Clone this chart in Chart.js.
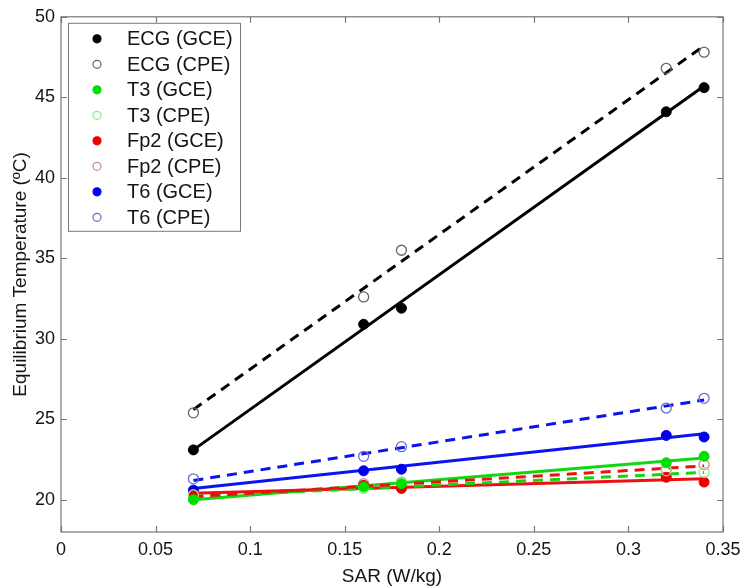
<!DOCTYPE html>
<html>
<head>
<meta charset="utf-8">
<script src="https://cdn.jsdelivr.net/npm/chart.js@4/dist/chart.umd.min.js"></script>
<style>
  html, body { margin: 0; padding: 0; background: #fff; }
  #wrap { width: 750px; height: 588px; }
</style>
</head>
<body>
<div id="wrap"><canvas id="myChart" width="750" height="588"></canvas></div>
<script>
// measured points, SAR in W/kg
const sar = [0.07, 0.16, 0.18, 0.32, 0.34];
const ecgGce = [23.1, 30.9, 31.9, 44.1, 45.6];
const ecgCpe = [25.4, 32.6, 35.5, 46.8, 47.8];
const t3Gce = [20.0, 20.8, 21.0, 22.3, 22.7];
const t3Cpe = [20.3, 20.7, 21.1, 21.8, 21.7];
const fp2Gce = [20.3, 20.9, 20.7, 21.4, 21.1];
const fp2Cpe = [20.3, 21.0, 21.1, 21.9, 22.2];
const t6Gce = [20.6, 21.8, 21.9, 24.0, 23.9];
const t6Cpe = [21.3, 22.7, 23.3, 25.7, 26.3];

// fitted lines, read at both ends
const fitX = [0.07, 0.34];
const ecgGceFit = [23.1, 45.7];
const ecgCpeFit = [25.6, 48.2];
const t3GceFit = [20.0, 22.6];
const t3CpeFit = [20.2, 21.7];
const fp2GceFit = [20.4, 21.3];
const fp2CpeFit = [20.2, 22.1];
const t6GceFit = [20.7, 24.1];
const t6CpeFit = [21.2, 26.2];

const xTicks = [0, 0.05, 0.1, 0.15, 0.2, 0.25, 0.3, 0.35];
const yTicks = [20, 25, 30, 35, 40, 45, 50];

const FONT = "'Liberation Sans', Arial, sans-serif";
const TEXT = '#151515';

function pts(xs, ys) {
    return xs.map((x, i) => ({ x: x, y: ys[i] }));
}

function markers(label, ys, color, open) {
    return {
        label: label,
        data: pts(sar, ys),
        showLine: false,
        pointRadius: 5,
        pointBorderWidth: open ? 1.3 : 1,
        pointBorderColor: color,
        pointBackgroundColor: open ? 'rgba(0,0,0,0)' : color,
        isMarker: true,
        order: 1
    };
}

function fit(ys, color, dashed) {
    return {
        data: pts(fitX, ys),
        showLine: true,
        borderColor: color,
        borderWidth: 3,
        borderDash: dashed ? [10, 7] : [],
        pointRadius: 0,
        isMarker: false,
        order: 2
    };
}

// boxed legend in the top left corner, markers only
const boxLegend = {
    id: 'boxLegend',
    afterDraw(chart) {
        const ctx = chart.ctx;
        const a = chart.chartArea;
        const items = chart.data.datasets.filter(d => d.isMarker);
        const x0 = a.left + 7, y0 = a.top + 6;
        const w = 172, h = 208;
        ctx.save();
        ctx.fillStyle = '#fff';
        ctx.fillRect(x0, y0, w, h);
        ctx.strokeStyle = '#777';
        ctx.lineWidth = 1;
        ctx.strokeRect(x0 + 0.5, y0 + 0.5, w, h);
        ctx.font = '20px ' + FONT;
        ctx.textBaseline = 'middle';
        items.forEach((d, i) => {
            const cy = y0 + 16 + i * 25.5;
            ctx.beginPath();
            ctx.arc(x0 + 29, cy, 4, 0, Math.PI * 2);
            if (d.pointBackgroundColor !== 'rgba(0,0,0,0)') {
                ctx.fillStyle = d.pointBackgroundColor;
                ctx.fill();
            }
            ctx.strokeStyle = d.pointBorderColor;
            ctx.lineWidth = 1.2;
            ctx.stroke();
            ctx.fillStyle = TEXT;
            ctx.fillText(d.label, x0 + 59, cy + 1);
        });
        ctx.restore();
    }
};

// box around the axes with inward ticks on all sides
const axesBox = {
    id: 'axesBox',
    beforeDatasetsDraw(chart) {
        const ctx = chart.ctx;
        const a = chart.chartArea;
        const xs = chart.scales.x, ys = chart.scales.y;
        ctx.save();
        ctx.strokeStyle = '#777';
        ctx.lineWidth = 1.2;
        ctx.strokeRect(a.left, a.top, a.right - a.left, a.bottom - a.top);
        ctx.beginPath();
        xTicks.forEach(v => {
            const px = Math.round(xs.getPixelForValue(v)) + 0.5;
            ctx.moveTo(px, a.bottom); ctx.lineTo(px, a.bottom - 6);
            ctx.moveTo(px, a.top); ctx.lineTo(px, a.top + 6);
        });
        yTicks.forEach(v => {
            const py = Math.round(ys.getPixelForValue(v)) + 0.5;
            ctx.moveTo(a.left, py); ctx.lineTo(a.left + 6, py);
            ctx.moveTo(a.right, py); ctx.lineTo(a.right - 6, py);
        });
        ctx.stroke();
        ctx.restore();
    }
};

new Chart(document.getElementById('myChart'), {
    type: 'scatter',
    data: {
        datasets: [
            markers('ECG (GCE)', ecgGce, '#000000', false),
            markers('ECG (CPE)', ecgCpe, '#666666', true),
            markers('T3 (GCE)', t3Gce, '#00e000', false),
            markers('T3 (CPE)', t3Cpe, '#8ee88e', true),
            markers('Fp2 (GCE)', fp2Gce, '#ee0000', false),
            markers('Fp2 (CPE)', fp2Cpe, '#d08a8a', true),
            markers('T6 (GCE)', t6Gce, '#0000ee', false),
            markers('T6 (CPE)', t6Cpe, '#6a6ad0', true),
            fit(ecgGceFit, '#000000', false),
            fit(ecgCpeFit, '#000000', true),
            fit(t6CpeFit, '#0a14ee', true),
            fit(t6GceFit, '#0a14ee', false),
            fit(fp2CpeFit, '#ee1010', true),
            fit(t3CpeFit, '#10d810', true),
            fit(fp2GceFit, '#ee1010', false),
            fit(t3GceFit, '#10d810', false)
        ]
    },
    options: {
        responsive: false,
        animation: false,
        layout: { padding: { top: 11, right: 27, left: 0, bottom: 0 } },
        plugins: {
            legend: { display: false },
            tooltip: { enabled: false }
        },
        scales: {
            x: {
                type: 'linear',
                min: 0,
                max: 0.35,
                afterFit: s => { s.height = 56; },
                afterBuildTicks: s => { s.ticks = xTicks.map(v => ({ value: v })); },
                grid: { display: false, drawTicks: false },
                border: { display: false },
                ticks: {
                    padding: 7,
                    color: TEXT,
                    font: { family: FONT, size: 18 },
                    callback: v => String(+v.toFixed(2))
                },
                title: {
                    display: true,
                    text: 'SAR (W/kg)',
                    color: TEXT,
                    font: { family: FONT, size: 19 },
                    padding: { top: 2, bottom: 0 }
                }
            },
            y: {
                min: 18,
                max: 50,
                afterFit: s => { s.width = 61; },
                afterBuildTicks: s => { s.ticks = yTicks.map(v => ({ value: v })); },
                grid: { display: false, drawTicks: false },
                border: { display: false },
                ticks: {
                    padding: 6,
                    color: TEXT,
                    font: { family: FONT, size: 18 }
                },
                title: {
                    display: true,
                    text: 'Equilibrium Temperature (ºC)',
                    color: TEXT,
                    font: { family: FONT, size: 19 },
                    padding: { top: 9, bottom: 0 }
                }
            }
        }
    },
    plugins: [axesBox, boxLegend]
});
</script>
</body>
</html>
